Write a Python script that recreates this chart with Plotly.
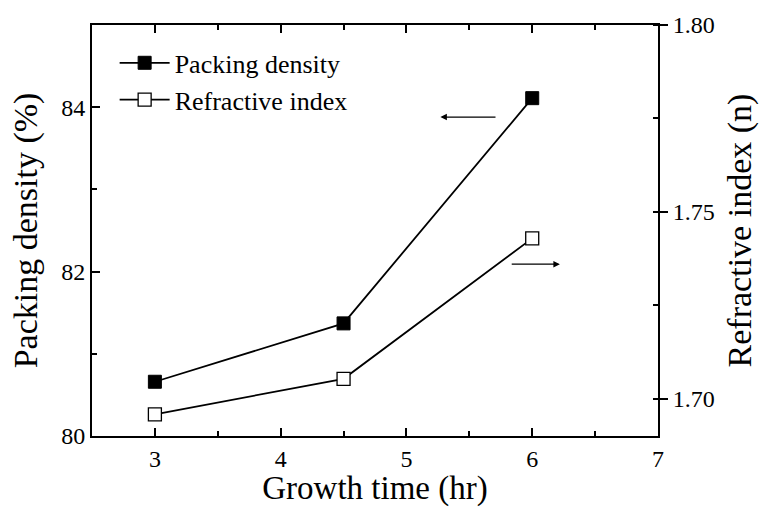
import plotly.graph_objects as go

growth_time = [3, 4.5, 6]
packing_density = [80.66, 81.37, 84.11]
refractive_index = [1.6958, 1.7053, 1.7429]

FONT = "Liberation Serif"

fig = go.Figure()
fig.add_trace(go.Scatter(
    x=growth_time, y=packing_density, mode="lines+markers",
    name="Packing density",
    line=dict(color="black", width=1.8),
    marker=dict(symbol="square", size=13, color="black", line=dict(color="black", width=1)),
))
fig.add_trace(go.Scatter(
    x=growth_time, y=refractive_index, mode="lines+markers",
    name="Refractive index", yaxis="y2",
    line=dict(color="black", width=1.8),
    marker=dict(symbol="square", size=13, color="white", line=dict(color="black", width=1.3)),
))

fig.update_layout(
    width=764, height=507,
    margin=dict(l=92, r=104, t=25, b=66),
    paper_bgcolor="white", plot_bgcolor="white",
    font=dict(family=FONT, size=20, color="black"),
    showlegend=True,
    legend=dict(x=0.04, y=0.965, xanchor="left", yanchor="top",
                font=dict(family=FONT, size=26), bgcolor="rgba(0,0,0,0)",
                itemwidth=50, tracegroupgap=0),
    xaxis=dict(
        range=[2.5, 7], dtick=1, tick0=0,
        showline=True, linecolor="black", linewidth=2, mirror="ticks",
        ticks="inside", ticklen=8, tickwidth=1.5, tickcolor="black",
        minor=dict(dtick=0.5, tick0=0, ticks="inside", ticklen=5, tickwidth=1.5, tickcolor="black"),
        showgrid=False, zeroline=False,
        tickfont=dict(family=FONT, size=24),
        title=dict(text="Growth time (hr)", font=dict(family=FONT, size=33), standoff=0),
    ),
    yaxis=dict(
        range=[80, 85], dtick=2, tick0=80,
        showline=True, linecolor="black", linewidth=2,
        ticks="inside", ticklen=8, tickwidth=1.5, tickcolor="black",
        minor=dict(dtick=1, tick0=80, ticks="inside", ticklen=5, tickwidth=1.5, tickcolor="black"),
        showgrid=False, zeroline=False,
        tickfont=dict(family=FONT, size=24),
        title=dict(text="Packing density (%)", font=dict(family=FONT, size=34), standoff=13),
    ),
    yaxis2=dict(
        range=[1.69, 1.80], dtick=0.05, tick0=1.70, tickformat=".2f",
        overlaying="y", side="right",
        showline=True, linecolor="black", linewidth=2,
        ticks="outside", ticklen=8, tickwidth=1.5, tickcolor="black",
        minor=dict(dtick=0.025, tick0=1.70, ticks="inside", ticklen=5, tickwidth=1.5, tickcolor="black"),
        showgrid=False, zeroline=False,
        tickfont=dict(family=FONT, size=24),
        title=dict(text="Refractive index (n)", font=dict(family=FONT, size=34), standoff=13),
    ),
)

fig.add_annotation(x=5.27, y=83.88, ax=5.72, ay=83.88, xref="x", yref="y", axref="x", ayref="y",
                   showarrow=True, arrowhead=2, arrowsize=1, arrowwidth=1.3, arrowcolor="black", text="")
fig.add_annotation(x=6.22, y=82.09, ax=5.825, ay=82.09, xref="x", yref="y", axref="x", ayref="y",
                   showarrow=True, arrowhead=2, arrowsize=1, arrowwidth=1.3, arrowcolor="black", text="")

fig.write_html("out.html")
